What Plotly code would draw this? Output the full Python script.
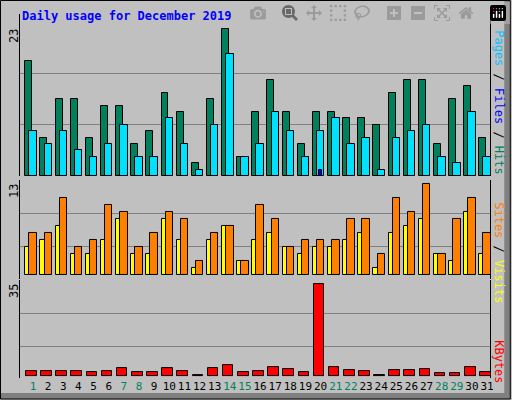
import plotly.graph_objects as go

days = list(range(1, 32))
hits = [18, 6, 12, 12, 6, 11, 11, 5, 7, 13, 10, 2, 12, 23, 3, 10,
        15, 10, 5, 10, 10, 9, 9, 8, 13, 15, 15, 5, 12, 14, 6]
files = [7, 5, 7, 4, 3, 5, 8, 3, 3, 9, 5, 1, 8, 19, 3, 5,
         10, 7, 3, 7, 9, 5, 6, 1, 6, 7, 8, 3, 2, 10, 3]
pages = [0] * 19 + [1] + [0] * 11
visits = [6, 6, 11, 4, 5, 10, 9, 4, 6, 9, 8, 2, 6, 7, 2, 10,
          8, 4, 5, 5, 5, 8, 8, 3, 11, 9, 13, 3, 8, 11, 6]
sites = [4, 5, 7, 3, 3, 5, 8, 3, 3, 8, 5, 1, 5, 7, 2, 5,
         6, 4, 3, 4, 4, 5, 6, 1, 6, 7, 8, 3, 2, 9, 3]
kbytes = [1.8, 1.8, 1.8, 1.8, 1.4, 1.8, 2.9, 1.4, 1.4, 2.9, 1.8, 0.3, 2.9, 3.9, 1.4, 1.8,
          3.2, 2.4, 1.3, 35, 3.2, 2.0, 1.7, 0.3, 2.0, 2.0, 2.4, 0.9, 0.9, 3.2, 1.3]
weekend = [1, 7, 8, 14, 15, 21, 22, 28, 29]

BG = "#c0c0c0"
line = dict(color="black", width=1)
fig = go.Figure()

def bars(y, color, off, w, ya):
    fig.add_trace(go.Bar(x=days, y=y, offset=off, width=w, marker=dict(color=color, line=line),
                         yaxis=ya, showlegend=False))

bars(hits, "#00805c", -0.51, 0.46, "y")
bars(files, "#00e0ff", -0.24, 0.49, "y")
bars(pages, "#0000ff", -0.1, 0.2, "y")
bars(sites, "#ffff00", -0.51, 0.46, "y2")
bars(visits, "#ff8000", -0.24, 0.49, "y2")
bars(kbytes, "#ff0000", -0.46, 0.7, "y3")

ax = dict(showline=True, linecolor="black", mirror=True, showticklabels=False, ticks="",
          gridcolor="#808080", zeroline=False, showgrid=True)
ticktext = ['<span style="color:%s">%d</span>' % ("#00805c" if d in weekend else "black", d) for d in days]
fig.update_layout(
    width=512, height=400, barmode="overlay",
    paper_bgcolor=BG, plot_bgcolor=BG,
    margin=dict(l=20, r=22, t=14, b=22),
    font=dict(family="DejaVu Sans Mono", size=11, color="black"),
    xaxis=dict(range=[0.14, 31.19], tickvals=days, ticktext=ticktext, showgrid=False,
               showline=False, ticks="", anchor="y3", tickangle=0, automargin=False),
    yaxis=dict(ax, domain=[0.555, 1], range=[0, 25.3], tickvals=[8, 16]),
    yaxis2=dict(ax, domain=[0.272, 0.544], range=[-0.53, 13.6], tickvals=[4.14, 8.86]),
    yaxis3=dict(ax, domain=[0, 0.269], range=[-0.88, 36.6], tickvals=[11.2, 24]),
    bargap=0,
)

def lab(text, x, y, ang, anchor_y):
    fig.add_annotation(text=text, xref="paper", yref="paper", x=x, y=y, textangle=ang,
                       showarrow=False, xanchor="center", yanchor=anchor_y,
                       font=dict(family="DejaVu Sans Mono", size=12))

px = lambda v: (v - 20) / 470.7
py = lambda v: (378 - v) / 364
lab("23", px(14), py(27), -90, "top")
lab("13", px(14), py(182), -90, "top")
lab("35", px(14), py(282), -90, "top")
lab('<span style="color:#00c0ff">Pages</span> / <span style="color:#0000ff">Files</span> / '
    '<span style="color:#00805c">Hits</span>', px(500), py(28), 90, "top")
lab('<span style="color:#ff8000">Sites</span> / <span style="color:#ffff00">Visits</span>',
    px(500), py(200), 90, "top")
lab('<span style="color:#ff0000">KBytes</span>', px(500), py(338), 90, "top")

fig.add_annotation(text="<b>Daily usage for December 2019</b>", xref="paper", yref="paper",
                   x=px(20), y=py(16), xanchor="left", yanchor="middle", showarrow=False,
                   font=dict(family="DejaVu Sans Mono", size=12, color="#0000ff"))

fig.add_shape(type="rect", xref="paper", yref="paper", x0=px(505), x1=px(511), y0=py(399), y1=py(0),
              fillcolor="#808080", line_width=0, layer="below")
fig.add_shape(type="rect", xref="paper", yref="paper", x0=px(0), x1=px(511), y0=py(399), y1=py(393),
              fillcolor="#808080", line_width=0, layer="below")
fig.add_shape(type="rect", xref="paper", yref="paper", x0=px(0.5), x1=px(511), y0=py(399), y1=py(0.5),
              line=dict(color="black", width=1), layer="below")

fig.write_html("out.html", post_script="document.body.style.margin='0';")
